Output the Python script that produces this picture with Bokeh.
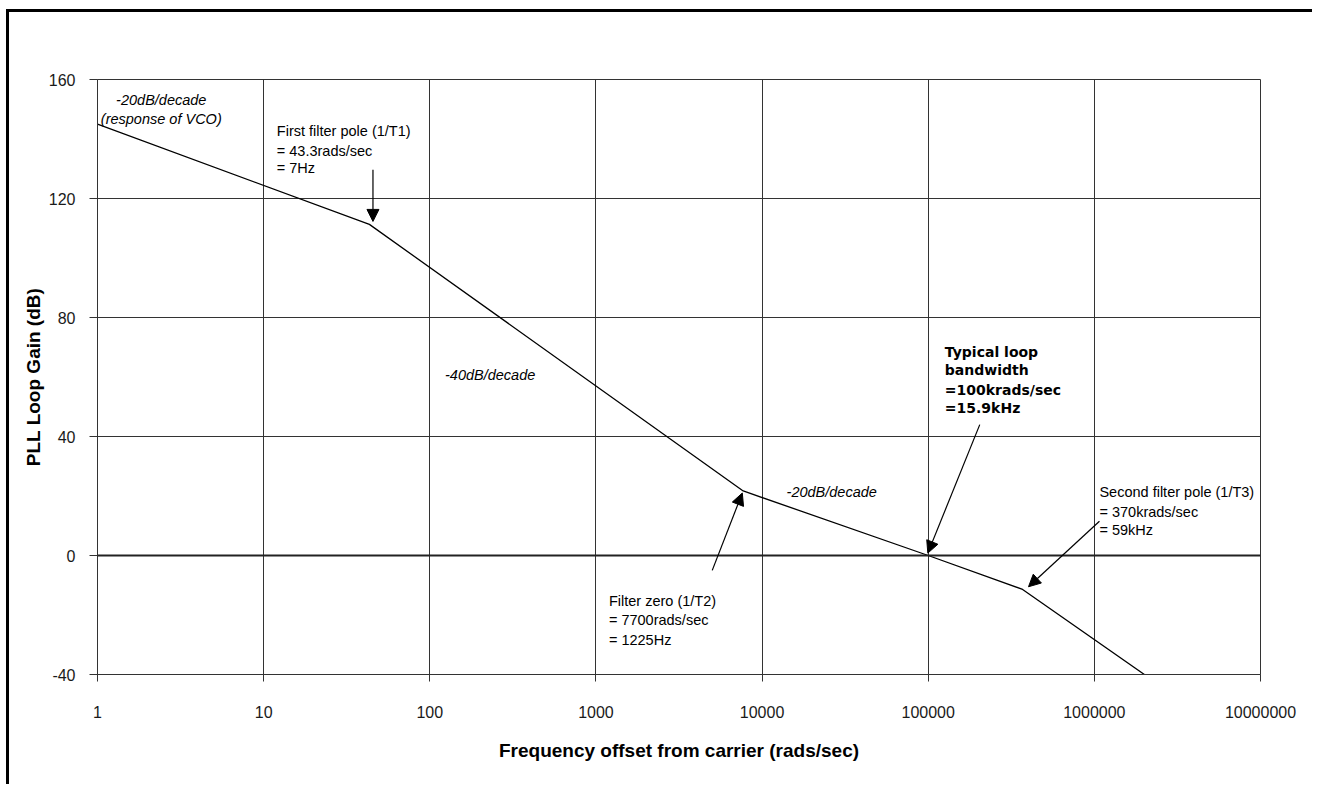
from bokeh.plotting import figure
from bokeh.models import (ColumnDataSource, FixedTicker, Arrow, NormalHead, Span,
                          NumeralTickFormatter)
from bokeh.embed import file_html
from bokeh.resources import INLINE
from bokeh.core.properties import value

# ---- data -------------------------------------------------------------
freq = [1, 43.3, 7700, 100000, 370000, 2000000]          # rads/sec
gain = [145, 111.3, 21.7, 0, -11.4, -40]                  # dB

x_ticks = [1, 10, 100, 1000, 10000, 100000, 1000000, 10000000]
x_tick_labels = ["1", "10", "100", "1000", "10000", "100000", "1000000", "10000000"]
y_ticks = [-40, 0, 40, 80, 120, 160]
y_tick_labels = ["-40", "0", "40", "80", "120", "160"]

# arrows (start -> end, data coordinates)
arrow_x_start = [45.5, 5012, 204300, 1073000]
arrow_y_start = [129.7, -5.0, 44.0, 11.5]
arrow_x_end = [45.5, 7603, 99450, 401500]
arrow_y_end = [112.3, 21.0, 0.8, -10.5]

# italic slope notes
italic_text = ["-20dB/decade", "(response of VCO)", "-40dB/decade", "-20dB/decade"]
italic_x = [2.42, 2.42, 123.5, 14040]
italic_y = [153.2, 146.8, 60.8, 21.3]
italic_align = ["center", "center", "left", "left"]

# plain notes
plain_text = ["First filter pole (1/T1)", "= 43.3rads/sec", "= 7Hz",
              "Filter zero (1/T2)", "= 7700rads/sec", "= 1225Hz",
              "Second filter pole (1/T3)", "= 370krads/sec", "= 59kHz"]
plain_x = [12.0, 12.0, 12.0, 1197, 1197, 1197, 1073000, 1073000, 1073000]
plain_y = [142.8, 136.1, 130.2, -15.4, -21.6, -28.3, 21.3, 14.6, 8.7]

# bold note
bold_text = ["Typical loop", "bandwidth", "=100krads/sec", "=15.9kHz"]
bold_x = [125900, 125900, 125900, 125900]
bold_y = [68.4, 62.5, 55.7, 49.6]

# ---- figure -----------------------------------------------------------
FONT = "Liberation Sans"

p = figure(width=1306, height=775, x_axis_type="log",
           x_range=(1, 1e7), y_range=(-40, 160),
           output_backend="svg", toolbar_location=None,
           min_border_left=88, min_border_top=67,
           min_border_right=55, min_border_bottom=113,
           background_fill_color="white", border_fill_color="white")
p.styles = {"border-top": "3px solid black", "border-left": "3px solid black",
            "margin-left": "6px", "margin-top": "9px"}

p.outline_line_color = "#333333"
p.outline_line_width = 1

p.xaxis.ticker = FixedTicker(ticks=x_ticks)
p.yaxis.ticker = FixedTicker(ticks=y_ticks)
p.xgrid.ticker = FixedTicker(ticks=x_ticks)
p.ygrid.ticker = FixedTicker(ticks=y_ticks)
p.xaxis.formatter = NumeralTickFormatter(format="0")
p.xaxis.major_label_overrides = {t: l for t, l in zip(x_ticks, x_tick_labels)}
p.yaxis.major_label_overrides = {t: l for t, l in zip(y_ticks, y_tick_labels)}

for g in (p.xgrid, p.ygrid):
    g.grid_line_color = "#333333"
    g.grid_line_width = 1

for ax in (p.xaxis, p.yaxis):
    ax.axis_line_color = "#333333"
    ax.major_tick_line_color = "#333333"
    ax.major_tick_in = 0
    ax.minor_tick_line_color = None
    ax.major_label_text_font = FONT
    ax.major_label_text_font_size = "16px"
    ax.major_label_text_color = "#1a1a1a"
    ax.axis_label_text_font = FONT
    ax.axis_label_text_font_size = "19px"
    ax.axis_label_text_font_style = "bold"
    ax.axis_label_text_color = "black"

p.xaxis.major_tick_out = 7
p.yaxis.major_tick_out = 8
p.xaxis.major_label_standoff = 24
p.yaxis.major_label_standoff = 14
p.xaxis.axis_label = "Frequency offset from carrier (rads/sec)"
p.yaxis.axis_label = "PLL Loop Gain (dB)"
p.xaxis.axis_label_standoff = 19
p.yaxis.axis_label_standoff = 2

p.add_layout(Span(location=0, dimension="width", line_color="#222222", line_width=2))

p.line(freq, gain, line_color="black", line_width=1.3)

arrows = ColumnDataSource(dict(xs=arrow_x_start, ys=arrow_y_start,
                               xe=arrow_x_end, ye=arrow_y_end))
p.add_layout(Arrow(end=NormalHead(size=12, fill_color="black", line_color="black"),
                   x_start="xs", y_start="ys", x_end="xe", y_end="ye",
                   line_color="black", line_width=1.2, source=arrows))

p.text(x=italic_x, y=italic_y, text=italic_text, text_align=italic_align,
       text_baseline="middle", text_font=value(FONT), text_font_size="14.5px",
       text_font_style="italic", text_color="black")
p.text(x=plain_x, y=plain_y, text=plain_text, text_align="left",
       text_baseline="middle", text_font=value(FONT), text_font_size="14.5px",
       text_color="black")
p.text(x=bold_x, y=bold_y, text=bold_text, text_align="left",
       text_baseline="middle", text_font=value("DejaVu Sans"), text_font_size="14px",
       text_font_style="bold", text_color="black")

open("out.html", "w").write(file_html(p, INLINE))
